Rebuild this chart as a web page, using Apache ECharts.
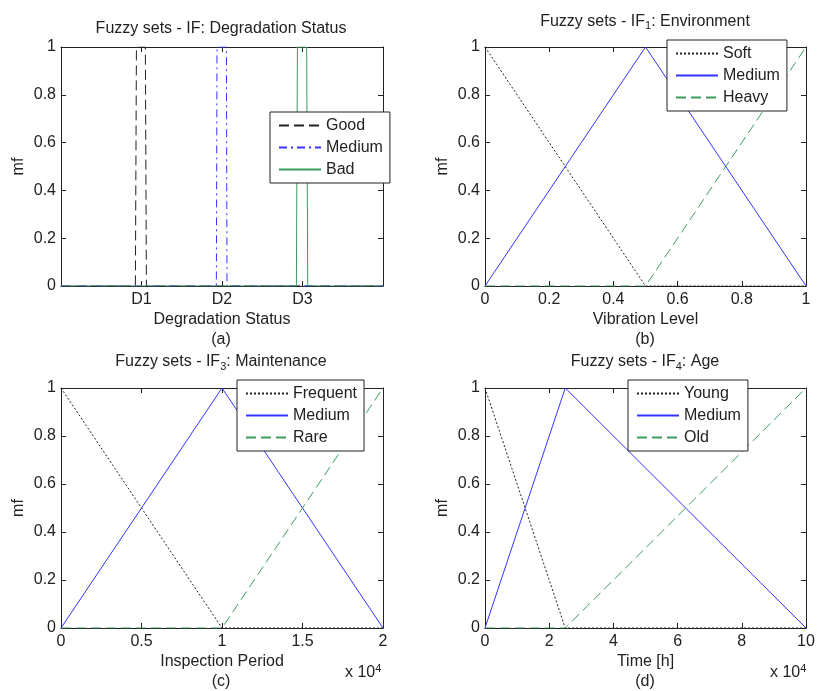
<!DOCTYPE html>
<html><head><meta charset="utf-8">
<script src="https://cdn.jsdelivr.net/npm/echarts@6/dist/echarts.min.js"></script>
<style>html,body{margin:0;padding:0;background:#fff}#c{width:817px;height:691px}</style>
</head><body><div id="c"></div>
<script>
// ---------- data ----------
// (a) Degradation Status
const aTickPos = [1, 2, 3];
const aTickLabels = ['D1', 'D2', 'D3'];
const aGood   = [[0, 0], [0.924, 0], [0.937, 1], [1.048, 1], [1.061, 0], [4, 0]];
const aMedium = [[0, 0], [1.930, 0], [1.938, 1], [2.055, 1], [2.062, 0], [4, 0]];
const aBad    = [[0, 0], [2.924, 0], [2.937, 1], [3.052, 1], [3.065, 0], [4, 0]];
// (b) Vibration Level
const bX = [0, 0.5, 1];
const bSoft = [1, 0, 0];
const bMedium = [0, 1, 0];
const bHeavy = [0, 0, 1];
// (c) Inspection Period
const cX = [0, 10000, 20000];
const cFrequent = [1, 0, 0];
const cMedium = [0, 1, 0];
const cRare = [0, 0, 1];
// (d) Time [h]
const dX = [0, 25000, 100000];
const dYoung = [1, 0, 0];
const dMedium = [0, 1, 0];
const dOld = [0, 0, 1];

// ---------- styles ----------
const FONT = '"Liberation Sans", Arial, Helvetica, sans-serif';
const TXT = '#222';
const FRAME = '#222';
const BLACK = '#222';
const BLUE = '#3333ff';
const GREEN = '#3a9d5d';
const FS = 16;

const pairs = (xs, ys) => xs.map((x, i) => [x, ys[i]]);

const grids = [
  {left: 61, top: 47, width: 322, height: 239},
  {left: 485, top: 47, width: 321, height: 239},
  {left: 61, top: 388, width: 322, height: 240},
  {left: 485, top: 388, width: 321, height: 240}
];

const xAxes = [], yAxes = [];
function addAxes(gi, xmin, xmax, xint, xfmt, xname) {
  const line = {show: true, onZero: false, lineStyle: {color: FRAME, width: 1}};
  const tick = {show: true, inside: true, length: 5, lineStyle: {color: FRAME, width: 1}};
  xAxes.push({
    type: 'value', gridIndex: gi, position: 'bottom', min: xmin, max: xmax, interval: xint,
    axisLine: line, axisTick: tick, splitLine: {show: false},
    axisLabel: {color: TXT, fontSize: FS, fontFamily: FONT, margin: 6, formatter: xfmt},
    name: xname, nameLocation: 'middle', nameGap: 26,
    nameTextStyle: {color: TXT, fontSize: FS, fontFamily: FONT}
  });
  xAxes.push({
    type: 'value', gridIndex: gi, position: 'top', min: xmin, max: xmax, interval: xint,
    axisLine: line, axisTick: tick, splitLine: {show: false}, axisLabel: {show: false}
  });
  yAxes.push({
    type: 'value', gridIndex: gi, position: 'left', min: 0, max: 1, interval: 0.2,
    axisLine: line, axisTick: tick, splitLine: {show: false},
    axisLabel: {color: TXT, fontSize: FS, fontFamily: FONT, margin: 5},
    name: 'mf', nameLocation: 'middle', nameGap: 34,
    nameTextStyle: {color: TXT, fontSize: FS, fontFamily: FONT}
  });
  yAxes.push({
    type: 'value', gridIndex: gi, position: 'right', min: 0, max: 1, interval: 0.2,
    axisLine: line, axisTick: tick, splitLine: {show: false}, axisLabel: {show: false}
  });
}
addAxes(0, 0, 4, 1, v => { const i = aTickPos.indexOf(v); return i >= 0 ? aTickLabels[i] : ''; }, 'Degradation Status');
addAxes(1, 0, 1, 0.2, null, 'Vibration Level');
addAxes(2, 0, 20000, 5000, v => String(v / 10000), 'Inspection Period');
addAxes(3, 0, 100000, 20000, v => String(v / 10000), 'Time [h]');

const DASH = [10, 5];
const DOT = [2, 2];
const DASHDOT = [8, 4, 2, 4];
function ser(name, gi, data, color, type) {
  return {
    type: 'line', name: name, xAxisIndex: 2 * gi, yAxisIndex: 2 * gi, data: data,
    symbol: 'none', animation: false, silent: true,
    lineStyle: {color: color, width: 1, type: type},
    itemStyle: {color: color}
  };
}
const series = [
  ser('Good@a', 0, aGood, BLACK, DASH),
  ser('Medium@a', 0, aMedium, BLUE, DASHDOT),
  ser('Bad@a', 0, aBad, GREEN, 'solid'),
  ser('Soft@b', 1, pairs(bX, bSoft), BLACK, DOT),
  ser('Medium@b', 1, pairs(bX, bMedium), BLUE, 'solid'),
  ser('Heavy@b', 1, pairs(bX, bHeavy), GREEN, DASH),
  ser('Frequent@c', 2, pairs(cX, cFrequent), BLACK, DOT),
  ser('Medium@c', 2, pairs(cX, cMedium), BLUE, 'solid'),
  ser('Rare@c', 2, pairs(cX, cRare), GREEN, DASH),
  ser('Young@d', 3, pairs(dX, dYoung), BLACK, DOT),
  ser('Medium@d', 3, pairs(dX, dMedium), BLUE, 'solid'),
  ser('Old@d', 3, pairs(dX, dOld), GREEN, DASH)
];

function leg(names, left, top) {
  return {
    data: names, left: left, top: top, orient: 'vertical',
    itemWidth: 42, itemHeight: 14, itemGap: 6, padding: [5.5, 7, 5.5, 8],
    borderColor: FRAME, borderWidth: 1, backgroundColor: '#fff', borderRadius: 0,
    selectedMode: false, formatter: n => n.split('@')[0],
    itemStyle: {opacity: 0, borderWidth: 0},
    textStyle: {color: TXT, fontSize: FS, fontFamily: FONT, lineHeight: 16}
  };
}
const legends = [
  leg(['Good@a', 'Medium@a', 'Bad@a'], 270, 112),
  leg(['Soft@b', 'Medium@b', 'Heavy@b'], 667, 40),
  leg(['Frequent@c', 'Medium@c', 'Rare@c'], 237, 380),
  leg(['Young@d', 'Medium@d', 'Old@d'], 628, 380)
];

const richT = {
  m: {fontSize: FS, fontFamily: FONT, fill: TXT, color: TXT, lineHeight: 18, verticalAlign: 'top'},
  s: {fontSize: 11, fontFamily: FONT, fill: TXT, color: TXT, lineHeight: 12, verticalAlign: 'bottom', padding: [12, 0, 0, 0]}
};
const richE = {
  m: {fontSize: FS, fontFamily: FONT, fill: TXT, color: TXT, lineHeight: 18, verticalAlign: 'bottom'},
  p: {fontSize: 11, fontFamily: FONT, fill: TXT, color: TXT, lineHeight: 12, verticalAlign: 'top', padding: [0, 0, 11, 0]}
};
function txt(text, x, y, va, rich, align) {
  return {
    type: 'text', silent: true, z: 10,
    style: {
      text: text, x: x, y: y, fill: TXT, fontSize: FS, fontFamily: FONT,
      align: align || 'center', textAlign: align || 'center',
      verticalAlign: va, textVerticalAlign: va, rich: rich
    }
  };
}
const graphics = [
  txt('Fuzzy sets - IF: Degradation Status', 221, 28.5, 'middle'),
  txt('{m|Fuzzy sets - IF}{s|1}{m|: Environment}', 645, 13.5, 'top', richT),
  txt('{m|Fuzzy sets - IF}{s|3}{m|: Maintenance}', 221, 354, 'top', richT),
  txt('{m|Fuzzy sets - IF}{s|4}{m|: Age}', 645, 354, 'top', richT),
  txt('(a)', 221, 340, 'middle'),
  txt('(b)', 645, 340, 'middle'),
  txt('(c)', 221, 682, 'middle'),
  txt('(d)', 645, 682, 'middle'),
  txt('{m|x 10}{p|4}', 345, 663, 'top', richE, 'left'),
  txt('{m|x 10}{p|4}', 770, 663, 'top', richE, 'left')
];

const chart = echarts.init(document.getElementById('c'), null, {renderer: 'canvas'});
chart.setOption({
  animation: false,
  backgroundColor: '#fff',
  grid: grids.map(g => Object.assign({outerBoundsMode: 'none', containLabel: false}, g)),
  xAxis: xAxes,
  yAxis: yAxes,
  legend: legends,
  series: series,
  graphic: graphics
});
</script></body></html>
